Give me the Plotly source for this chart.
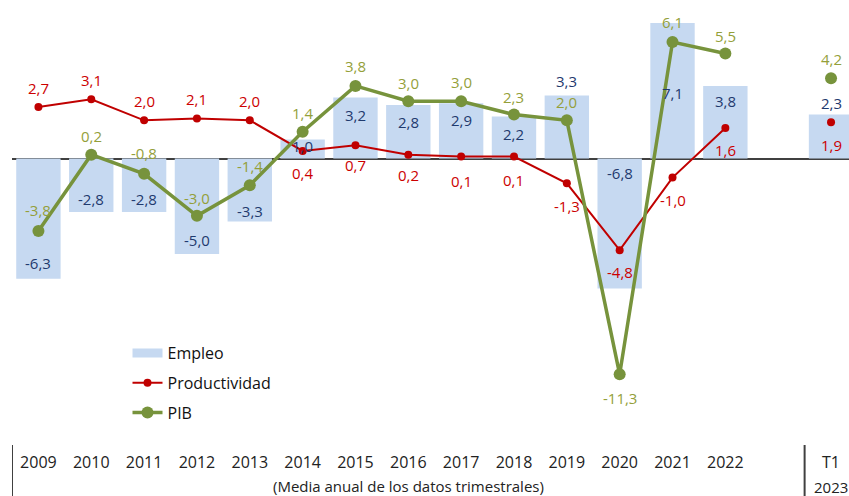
import plotly.graph_objects as go

# ---- data ----
years = ["2009", "2010", "2011", "2012", "2013", "2014", "2015", "2016",
         "2017", "2018", "2019", "2020", "2021", "2022"]
quarter_label = "T1"
quarter_year = "2023"
empleo = [-6.3, -2.8, -2.8, -5.0, -3.3, 1.0, 3.2, 2.8, 2.9, 2.2, 3.3, -6.8, 7.1, 3.8]
productividad = [2.7, 3.1, 2.0, 2.1, 2.0, 0.4, 0.7, 0.2, 0.1, 0.1, -1.3, -4.8, -1.0, 1.6]
pib = [-3.8, 0.2, -0.8, -3.0, -1.4, 1.4, 3.8, 3.0, 3.0, 2.3, 2.0, -11.3, 6.1, 5.5]
empleo_t1 = 2.3
productividad_t1 = 1.9
pib_t1 = 4.2

# ---- label offsets (pixels, positive = up) ----
emp_shift = [16, 13, 13, 14, 11, -7, -18, -17, -17, -17, 14, 115, -70, -15, 12]
prod_shift = [19, 19, 19, 19, 19, -22, -20, -20, -24, -23, -23, -22, -22, -22, -23]
pib_shift = [21, 19, 21, 18, 19, 19, 20, 18, 19, 18, 18, -24, 20, 17, 19]

# positions: years 0..13, a gap, then T1 at 15
xs = list(range(len(years)))
x_t1 = len(years) + 1
all_x = xs + [x_t1]

BAR = "#C6D9F1"
RED = "#C00000"
GREEN = "#77933C"
NAVY_TXT = "#1F3A6E"
RED_TXT = "#CC0000"
GREEN_TXT = "#949F3A"
FONT = "Open Sans"

fig = go.Figure()

fig.add_trace(go.Bar(
    x=all_x, y=empleo + [empleo_t1], width=0.84,
    marker=dict(color=BAR, line=dict(width=0)),
    name="Empleo", showlegend=False, hoverinfo="skip",
))
# legend swatch for Empleo
fig.add_trace(go.Scatter(
    x=[None], y=[None], mode="lines", name="Empleo",
    line=dict(color=BAR, width=9), legendgroup="a",
))
fig.add_trace(go.Scatter(
    x=xs, y=productividad, mode="lines+markers", name="Productividad",
    line=dict(color=RED, width=2), marker=dict(color=RED, size=8),
    legendgroup="b",
))
fig.add_trace(go.Scatter(
    x=[x_t1], y=[productividad_t1], mode="markers", showlegend=False,
    marker=dict(color=RED, size=8), legendgroup="b",
))
fig.add_trace(go.Scatter(
    x=xs, y=pib, mode="lines+markers", name="PIB",
    line=dict(color=GREEN, width=3.5), marker=dict(color=GREEN, size=12),
    legendgroup="c",
))
fig.add_trace(go.Scatter(
    x=[x_t1], y=[pib_t1], mode="markers", showlegend=False,
    marker=dict(color=GREEN, size=12), legendgroup="c",
))


def fmt(v):
    return f"{v:.1f}".replace(".", ",")


annotations = []
for vals, shifts, color in [
    (empleo + [empleo_t1], emp_shift, NAVY_TXT),
    (productividad + [productividad_t1], prod_shift, RED_TXT),
    (pib + [pib_t1], pib_shift, GREEN_TXT),
]:
    for x, v, s in zip(all_x, vals, shifts):
        annotations.append(dict(
            x=x, y=v, text=fmt(v), showarrow=False, yshift=s,
            font=dict(family=FONT, size=15, color=color),
            xanchor="center", yanchor="middle",
        ))

annotations.append(dict(
    x=7.0, xref="x", y=0, yref="paper", yshift=-41,
    xanchor="center", yanchor="middle",
    text="(Media anual de los datos trimestrales)", showarrow=False,
    font=dict(family=FONT, size=15, color="#222222"),
))
annotations.append(dict(
    x=x_t1, xref="x", y=0, yref="paper", yshift=-42,
    xanchor="center", yanchor="middle",
    text=quarter_year, showarrow=False,
    font=dict(family=FONT, size=15, color="#222222"),
))

shapes = [
    dict(type="line", xref="x", yref="paper", x0=-0.5, x1=-0.5, y0=0, y1=-0.2,
         line=dict(color="#404040", width=2)),
    dict(type="line", xref="x", yref="paper", x0=14.5, x1=14.5, y0=0, y1=-0.2,
         line=dict(color="#404040", width=2)),
]

fig.update_layout(
    width=849, height=496,
    margin=dict(l=12, r=0, t=0, b=51),
    paper_bgcolor="white", plot_bgcolor="white",
    barmode="overlay",
    showlegend=True,
    legend=dict(
        x=0.138, y=0.245, xanchor="left", yanchor="top",
        font=dict(family=FONT, size=16, color="#111111"),
        bgcolor="rgba(0,0,0,0)", traceorder="grouped", tracegroupgap=6,
    ),
    xaxis=dict(
        range=[-0.5, 15.34], showgrid=False, zeroline=False, showline=False,
        tickmode="array", tickvals=all_x, ticktext=years + [quarter_label],
        ticks="", tickfont=dict(family=FONT, size=16, color="#222222"),
        ticklabelstandoff=6, fixedrange=True,
    ),
    yaxis=dict(
        range=[-15.0, 8.30], showgrid=False, showticklabels=False,
        zeroline=True, zerolinecolor="#404040", zerolinewidth=1.5,
        showline=False, ticks="", fixedrange=True,
    ),
    annotations=annotations,
    shapes=shapes,
)

fig.write_html("out.html")
